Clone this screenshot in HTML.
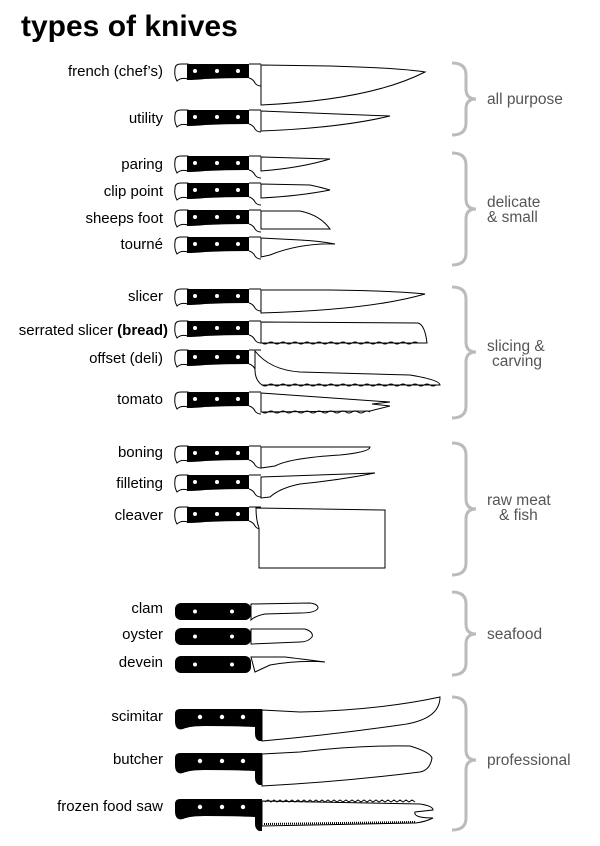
<!DOCTYPE html>
<html><head><meta charset="utf-8"><style>body{margin:0;background:#fff}svg{display:block}</style></head><body>
<svg width="600" height="846" viewBox="0 0 600 846" xmlns="http://www.w3.org/2000/svg" font-family="Liberation Sans, sans-serif">
<defs>
<g id="h">
<path d="M0,5 Q0,0 6,0 L13,0 L13,15 Q6,13 2,17 Q-1,12 0,5 Z" fill="#fff" stroke="#000" stroke-width="1"/>
<path d="M12,0 L74,0 L74,14 Q50,14 30,15 Q20,16 12,16 Z" fill="#000"/>
<path d="M74,0 L86,0 M74,14 Q78,15 80,19 Q82,22 86,22" fill="none" stroke="#000" stroke-width="1"/>
<circle cx="20" cy="7" r="2" fill="#fff"/><circle cx="42" cy="7" r="2" fill="#fff"/><circle cx="63" cy="7" r="2" fill="#fff"/>
</g>
<g id="s">
<rect x="0" y="0" width="76" height="17" rx="6" fill="#000"/>
<circle cx="20" cy="8.5" r="2" fill="#fff"/><circle cx="57" cy="8.5" r="2" fill="#fff"/>
</g>
<g id="p">
<path d="M0,5 Q0,0 5,0 L87,0 L87,32 L84,32 Q80,30 80,25 L80,18 Q60,17 30,17 Q15,17 8,20 Q0,22 0,12 Z" fill="#000"/>
<circle cx="25" cy="8" r="2.2" fill="#fff"/><circle cx="47" cy="8" r="2.2" fill="#fff"/><circle cx="68" cy="8" r="2.2" fill="#fff"/>
</g>
</defs>
<text x="21" y="36" font-size="30" font-weight="bold" fill="#000">types of knives</text>
<g font-size="15" fill="#000" text-anchor="end">
<text x="163" y="76">french (chef’s)</text>
<text x="163" y="123">utility</text>
<text x="163" y="169">paring</text>
<text x="163" y="196">clip point</text>
<text x="163" y="223">sheeps foot</text>
<text x="163" y="249">tourné</text>
<text x="163" y="301">slicer</text>
<text x="168" y="335">serrated slicer <tspan font-weight="bold">(bread)</tspan></text>
<text x="163" y="363">offset (deli)</text>
<text x="163" y="404">tomato</text>
<text x="163" y="457">boning</text>
<text x="163" y="488">filleting</text>
<text x="163" y="520">cleaver</text>
<text x="163" y="613">clam</text>
<text x="163" y="639">oyster</text>
<text x="163" y="667">devein</text>
<text x="163" y="721">scimitar</text>
<text x="163" y="764">butcher</text>
<text x="163" y="811">frozen food saw</text>
</g>
<g font-size="15.5" fill="#555">
<text x="487" y="104">all purpose</text>
<text x="487" y="207">delicate</text><text x="487" y="222">&amp; small</text>
<text x="487" y="351">slicing &amp;</text><text x="492" y="366">carving</text>
<text x="487" y="505">raw meat</text><text x="499" y="520">&amp; fish</text>
<text x="487" y="639">seafood</text>
<text x="487" y="765">professional</text>
</g>
<g fill="none" stroke="#bbb" stroke-width="3">
<path d="M452,63 Q466,63 466,75 L466,89 Q466,99 476,99 Q466,99 466,109 L466,123 Q466,135 452,135"/>
<path d="M452,153 Q466,153 466,165 L466,199 Q466,209 476,209 Q466,209 466,219 L466,253 Q466,265 452,265"/>
<path d="M452,287 Q466,287 466,299 L466,342 Q466,352 476,352 Q466,352 466,362 L466,406 Q466,418 452,418"/>
<path d="M452,443 Q466,443 466,455 L466,499 Q466,509 476,509 Q466,509 466,519 L466,563 Q466,575 452,575"/>
<path d="M452,592 Q466,592 466,604 L466,624 Q466,634 476,634 Q466,634 466,644 L466,663 Q466,675 452,675"/>
<path d="M452,697 Q466,697 466,709 L466,750 Q466,760 476,760 Q466,760 466,770 L466,818 Q466,830 452,830"/>
</g>
<g>
<use href="#h" x="175" y="64"/><use href="#h" x="175" y="110"/><use href="#h" x="175" y="156"/>
<use href="#h" x="175" y="183"/><use href="#h" x="175" y="210"/><use href="#h" x="175" y="237"/>
<use href="#h" x="175" y="289"/><use href="#h" x="175" y="321"/><use href="#h" x="175" y="350"/>
<use href="#h" x="175" y="392"/><use href="#h" x="175" y="446"/><use href="#h" x="175" y="475"/>
<use href="#h" x="175" y="507"/>
<use href="#s" x="175" y="603"/><use href="#s" x="175" y="628"/><use href="#s" x="175" y="656"/>
<use href="#p" x="175" y="709"/><use href="#p" x="175" y="753"/><use href="#p" x="175" y="799"/>
</g>
<g fill="#fff" stroke="#000" stroke-width="1">
<path d="M261,65 L330,66 Q400,68 425,72 Q370,100 261,105 Z"/>
<path d="M261,111 L390,116 Q340,128 261,131 Z"/>
<path d="M261,157 L330,159 Q300,168 261,171 Z"/>
<path d="M261,184 L310,185 Q320,187 330,190 Q300,196 261,198 Z"/>
<path d="M261,211 L300,211 Q320,215 330,229 L261,229 Z"/>
<path d="M261,238 L300,240 Q320,241 335,244 Q300,243 270,255 L261,257 Z"/>
<path d="M261,290 L330,290 Q400,291 425,294 Q370,310 261,313 Z"/>
<path d="M261,322 L418,323 Q425,325 427,343 L261,343 Z"/>
<path d="M255,351 Q270,370 300,372 L410,375 Q440,380 440,385 L262,385 Q255,380 255,370 Z"/>
<path d="M261,393 L390,402 L372,404 L390,406 L370,411 L261,412 Z"/>
<path d="M261,447 L370,447 Q370,452 340,455 Q290,458 275,466 L261,468 Z"/>
<path d="M261,477 L375,473 Q340,480 300,484 Q280,488 270,497 L261,498 Z"/>
<path d="M256,508 L385,510 L385,568 L259,568 L259,528 Q256,520 256,508 Z"/>
<path d="M251,604 L310,603 Q318,604 318,608 Q316,613 300,613 L265,614 Q255,616 251,620 Z"/>
<path d="M251,629 L305,629 Q314,632 312,637 Q308,642 300,642 L251,644 Z"/>
<path d="M251,657 L285,657 Q310,660 325,662 Q300,660 270,665 L255,672 Z"/>
<path d="M262,710 L300,712 Q380,710 440,697 Q440,720 400,725 Q330,735 262,741 Z"/>
<path d="M262,754 L300,752 Q360,745 410,746 Q430,752 432,758 Q430,770 420,772 Q340,782 262,786 Z"/>
<path d="M262,801 L420,804 Q433,806 433,810 L415,812 Q413,818 433,818 Q425,822 415,823 L262,826 Z"/>
</g>
<g fill="none" stroke="#000" stroke-width="1">
<line x1="261" y1="65" x2="261" y2="105"/><line x1="261" y1="322" x2="261" y2="343"/>
<path d="M262,343 q3,2 6,0 q3,-2 6,0 q3,2 6,0 q3,-2 6,0 q3,2 6,0 q3,-2 6,0 q3,2 6,0 q3,-2 6,0 q3,2 6,0 q3,-2 6,0 q3,2 6,0 q3,-2 6,0 q3,2 6,0 q3,-2 6,0 q3,2 6,0 q3,-2 6,0 q3,2 6,0 q3,-2 6,0 q3,2 6,0 q3,-2 6,0 q3,2 6,0 q3,-2 6,0 q3,2 6,0 q3,-2 6,0 q3,2 6,0 q3,-2 6,0"/>
<path d="M262,385 q3,2 6,0 q3,-2 6,0 q3,2 6,0 q3,-2 6,0 q3,2 6,0 q3,-2 6,0 q3,2 6,0 q3,-2 6,0 q3,2 6,0 q3,-2 6,0 q3,2 6,0 q3,-2 6,0 q3,2 6,0 q3,-2 6,0 q3,2 6,0 q3,-2 6,0 q3,2 6,0 q3,-2 6,0 q3,2 6,0 q3,-2 6,0 q3,2 6,0 q3,-2 6,0 q3,2 6,0 q3,-2 6,0 q3,2 6,0 q3,-2 6,0 q3,2 6,0 q3,-2 6,0 q3,2 6,0"/>
<path d="M262,412 q3,2 6,0 q3,-2 6,0 q3,2 6,0 q3,-2 6,0 q3,2 6,0 q3,-2 6,0 q3,2 6,0 q3,-2 6,0 q3,2 6,0 q3,-2 6,0 q3,2 6,0 q3,-2 6,0 q3,2 6,0 q3,-2 6,0 q3,2 6,0 q3,-2 6,0 q3,2 6,0 q3,-2 6,0"/>
<path d="M265,802 l3,-2 l3,2 l3,-2 l3,2 l3,-2 l3,2 l3,-2 l3,2 l3,-2 l3,2 l3,-2 l3,2 l3,-2 l3,2 l3,-2 l3,2 l3,-2 l3,2 l3,-2 l3,2 l3,-2 l3,2 l3,-2 l3,2 l3,-2 l3,2 l3,-2 l3,2 l3,-2 l3,2 l3,-2 l3,2 l3,-2 l3,2 l3,-2 l3,2 l3,-2 l3,2 l3,-2 l3,2 l3,-2 l3,2 l3,-2 l3,2 l3,-2 l3,2 l3,-2 l3,2 l3,-2 l3,2"/>
<line x1="264" y1="824" x2="415" y2="822" stroke-width="2" stroke-dasharray="1,1"/>
</g>
</svg>
</body></html>
